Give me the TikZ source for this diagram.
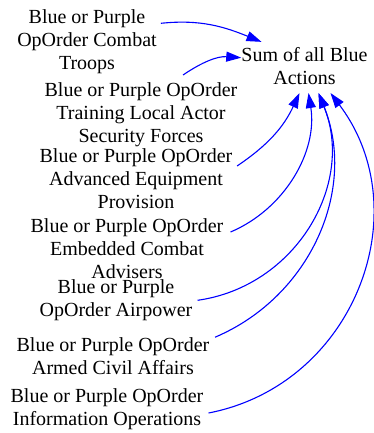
\documentclass[tikz,border=0pt]{standalone}
\usepackage{fontspec}
\setmainfont{Liberation Serif}
\usepackage{tikz}
\usetikzlibrary{arrows.meta}
\definecolor{lnkblue}{RGB}{0,0,255}
\tikzset{
  var/.style={align=center, inner sep=0pt, font=\fontsize{20}{23}\selectfont},
  arr/.style={-{Triangle[length=15pt,width=10pt]}, draw=lnkblue, line width=1.1pt}
}

\begin{document}
\begin{tikzpicture}[x=1pt, y=1pt]
  \useasboundingbox (0,0) rectangle (373,-433);
  \node[var] (sum) at (304.5,-65.7) {Sum of all Blue\\Actions};
  \node[var] (combat) at (87,-41.3) {Blue or Purple\\OpOrder Combat\\Troops};
  \node[var] (training) at (141,-114.3) {Blue or Purple OpOrder\\Training Local Actor\\Security Forces};
  \node[var] (equip) at (136,-178.7) {Blue or Purple OpOrder\\Advanced Equipment\\Provision};
  \node[var] (advisers) at (127,-248.7) {Blue or Purple OpOrder\\Embedded Combat\\Advisers};
  \node[var] (air) at (116,-300.3) {Blue or Purple\\OpOrder Airpower};
  \node[var] (civil) at (113,-356.2) {Blue or Purple OpOrder\\Armed Civil Affairs};
  \node[var] (infoops) at (107,-409.3) {Blue or Purple OpOrder\\Information Operations};
  % links into the sum
  \draw[arr] ([shift={(4,18)}]combat.east) to[out=6, in=158] ([shift={(-43,5)}]sum.north);
  \draw[arr] ([shift={(42,7)}]training.north) to[out=34, in=176] ([shift={(0,8)}]sum.west);
  \draw[arr] ([shift={(4.5,12.7)}]equip.east) to[out=34, in=245] ([shift={(-5,-8.5)}]sum.south);
  \draw[arr] ([shift={(7,16.7)}]advisers.east) to[out=23, in=279, looseness=0.95] ([shift={(4,-8.5)}]sum.south);
  \draw[arr] ([shift={(5,0)}]air.east) to[out=8, in=292, looseness=1.05] ([shift={(14,-8.5)}]sum.south);
  \draw[arr] ([shift={(5.5,19)}]civil.east) to[out=23, in=292] ([shift={(14,-8.5)}]sum.south);
  \draw[arr] ([shift={(5,-3.7)}]infoops.east) to[out=11, in=307, looseness=1.11] ([shift={(26,-8.5)}]sum.south);
\end{tikzpicture}
\end{document}
